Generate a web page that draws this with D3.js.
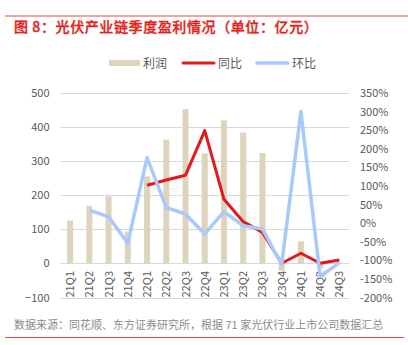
<!DOCTYPE html>
<html><head><meta charset="utf-8">
<script src="https://cdn.jsdelivr.net/npm/d3@7"></script>
<style>body{margin:0;background:#fff}svg{display:block}text{font-family:"Noto Sans CJK SC","Liberation Sans",sans-serif}</style>
</head><body><svg id="c" width="408" height="345"></svg>
<script>
const categories = ["21Q1","21Q2","21Q3","21Q4","22Q1","22Q2","22Q3","22Q4","23Q1","23Q2","23Q3","23Q4","24Q1","24Q2","24Q3"];
const profit = [126,169,197,93,255,363,453,323,420,384,324,-22,65,-14,3];
const yoy = [null,null,null,null,102,116,129,249,64,4,-25,-108,-81,-108,-99];
const qoq = [null,35,17,-54,176,42,24,-29,31,-7,-16,-111,300,-144,-106];
const leftTicks = [-100,0,100,200,300,400,500];
const rightTicks = [-200,-150,-100,-50,0,50,100,150,200,250,300,350];

const svg = d3.select("#c");
const L = 60.5, R = 349, T = 93, B = 297.5;
const x = d3.scaleBand().domain(categories).range([L,R]);
const yL = d3.scaleLinear().domain([-100,500]).range([B,T]);
const yR = d3.scaleLinear().domain([-200,350]).range([B,T]);

// frame lines
svg.append("line").attr("x1",5).attr("x2",408).attr("y1",16).attr("y2",16).attr("stroke","#E8463F").attr("stroke-width",1);
svg.append("line").attr("x1",5).attr("x2",404).attr("y1",337.5).attr("y2",337.5).attr("stroke","#E8463F").attr("stroke-width",1);
svg.append("text").attr("x",14).attr("y",32).attr("fill","#E3231B").attr("font-size",14).attr("font-weight",500)
  .attr("stroke","#E3231B").attr("stroke-width",0.35).attr("letter-spacing",0.6)
  .text("图 8：光伏产业链季度盈利情况（单位：亿元）");
svg.append("text").attr("x",14).attr("y",329).attr("fill","#8c8c8c").attr("font-size",11)
  .text("数据来源：同花顺、东方证券研究所，根据 71 家光伏行业上市公司数据汇总");

// grid
svg.append("g").selectAll("line").data(leftTicks).join("line")
  .attr("x1",L).attr("x2",R).attr("y1",d=>Math.round(yL(d))+0.5).attr("y2",d=>Math.round(yL(d))+0.5)
  .attr("stroke","#d9d9d9").attr("stroke-width",1);

// left axis
const ga = svg.append("g").attr("transform",`translate(${L},0)`).call(d3.axisLeft(yL).tickValues(leftTicks).tickSize(0).tickPadding(11));
ga.select(".domain").remove();
ga.selectAll("text").attr("font-size",11).attr("fill","#595959").attr("font-family","Liberation Sans, Arial, sans-serif");
// right axis
const gr = svg.append("g").attr("transform",`translate(${R},0)`).call(d3.axisRight(yR).tickValues(rightTicks).tickSize(0).tickPadding(11).tickFormat(d=>d+"%"));
gr.select(".domain").remove();
gr.selectAll("text").attr("font-size",11).attr("fill","#595959").attr("font-family","Liberation Sans, Arial, sans-serif");

// bars
const bw = 6;
svg.append("g").selectAll("rect").data(categories).join("rect")
  .attr("x",(d)=>x(d)+x.bandwidth()/2-bw/2)
  .attr("y",(d,i)=>yL(Math.max(0,profit[i])))
  .attr("width",bw)
  .attr("height",(d,i)=>Math.abs(yL(profit[i])-yL(0)))
  .attr("fill","#DED4BC");

// x labels
svg.append("g").selectAll("text").data(categories).join("text")
  .attr("transform",d=>`translate(${x(d)+x.bandwidth()/2+4},${271}) rotate(-90)`)
  .attr("text-anchor","end").attr("font-size",11).attr("fill","#595959")
  .attr("font-family","Liberation Sans, Arial, sans-serif").text(d=>d);

// lines
const line = d3.line().defined(d=>d.v!==null).x(d=>x(d.c)+x.bandwidth()/2).y(d=>yR(d.v));
svg.append("path").datum(categories.map((c,i)=>({c,v:yoy[i]}))).attr("d",line)
  .attr("fill","none").attr("stroke","#E3191B").attr("stroke-width",3).attr("stroke-linejoin","round");
svg.append("path").datum(categories.map((c,i)=>({c,v:qoq[i]}))).attr("d",line)
  .attr("fill","none").attr("stroke","#A8C9FA").attr("stroke-width",3.5).attr("stroke-linejoin","round");

// legend
const lg = svg.append("g").attr("font-size",12).attr("fill","#595959");
lg.append("rect").attr("x",109).attr("y",60).attr("width",31).attr("height",6).attr("fill","#DED4BC");
lg.append("text").attr("x",143).attr("y",67.5).text("利润").attr("fill","#595959");
lg.append("line").attr("x1",183).attr("x2",214).attr("y1",63).attr("y2",63).attr("stroke","#E3191B").attr("stroke-width",3).attr("stroke-linecap","round");
lg.append("text").attr("x",218).attr("y",67.5).text("同比").attr("fill","#595959");
lg.append("line").attr("x1",257).attr("x2",288).attr("y1",63).attr("y2",63).attr("stroke","#A8C9FA").attr("stroke-width",3.5).attr("stroke-linecap","round");
lg.append("text").attr("x",292).attr("y",67.5).text("环比").attr("fill","#595959");
</script></body></html>
